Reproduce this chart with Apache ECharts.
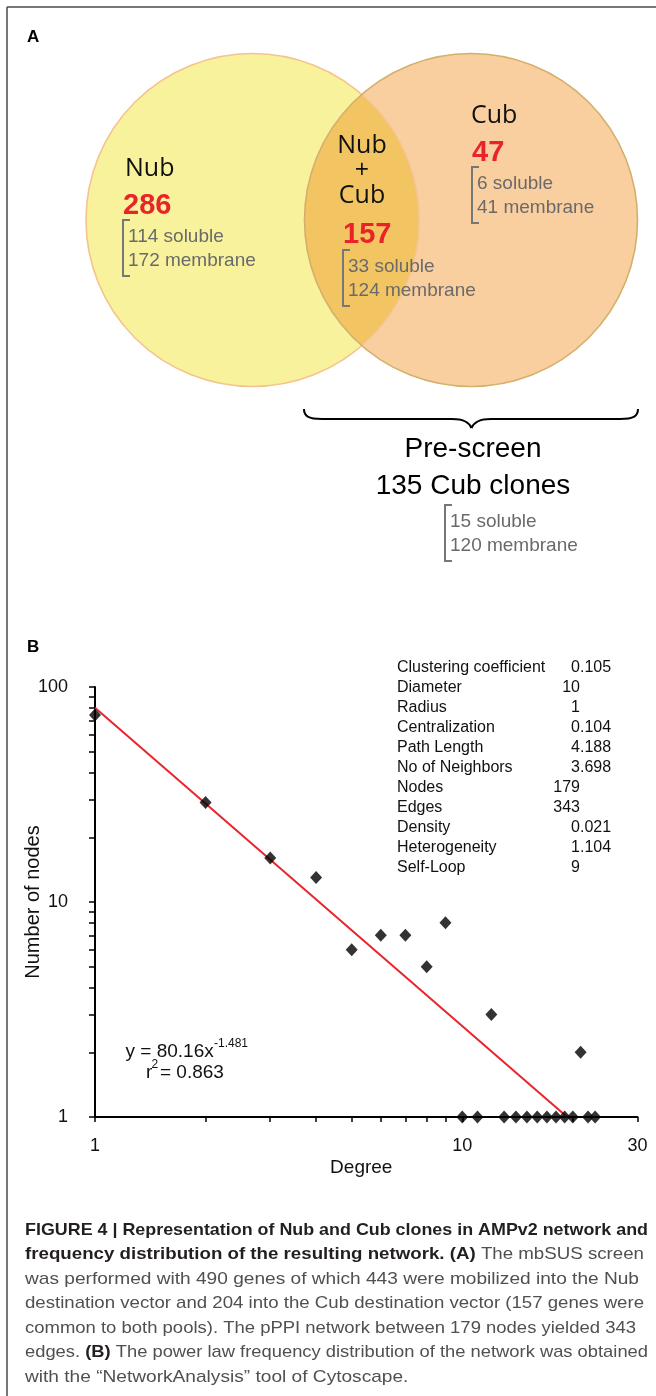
<!DOCTYPE html>
<html>
<head>
<meta charset="utf-8">
<script src="https://cdn.jsdelivr.net/npm/echarts@6/dist/echarts.min.js"></script>
<style>
  html, body { margin: 0; padding: 0; background: #fff; }
  #main { width: 656px; height: 1396px; }
</style>
</head>
<body>
<div id="main"></div>
<script>
// ---- Panel B: degree distribution of the pPPI network (log-log) ----
const degree    = [1, 2, 3, 4, 5, 6, 7, 8, 9, 10, 11, 12, 13, 14, 15, 16, 17, 18, 19, 20, 21, 22, 23];
const nodeCount = [74, 29, 16, 13, 6, 7, 7, 5, 8, 1, 1, 3, 1, 1, 1, 1, 1, 1, 1, 1, 2, 1, 1];

// power-law fit y = a * x^b
const fitCoefficient = 80.16;
const fitExponent = -1.481;
const fitR2 = '0.863';

const xTickValues  = [1, 2, 3, 4, 5, 6, 7, 8, 9, 10, 20, 30];
const xLabelValues = [1, 10, 30];
const yTickValues  = [1, 2, 3, 4, 5, 6, 7, 8, 9, 10, 20, 30, 40, 50, 60, 70, 80, 90, 100];
const yLabelValues = [1, 10, 100];

// network statistics
const statNames  = ['Clustering coefficient', 'Diameter', 'Radius', 'Centralization', 'Path Length',
                    'No of Neighbors', 'Nodes', 'Edges', 'Density', 'Heterogeneity', 'Self-Loop'];
const statValues = ['0.105', '10', '1', '0.104', '4.188', '3.698', '179', '343', '0.021', '1.104', '9'];

// ---- Panel A: clone pools ----
const vennTitles   = ['Nub', 'Nub\n+\nCub', 'Cub'];
const vennTotals   = [286, 157, 47];
const vennSoluble  = [114, 33, 6];
const vennMembrane = [172, 124, 41];
const preScreenTitle = ['Pre-screen', '135 Cub clones'];
const preScreenSoluble = 15;
const preScreenMembrane = 120;

// ---- caption (segments: [text, bold]) ----
const captionLines = [
  [['FIGURE 4 | Representation of Nub and Cub clones in AMPv2 network and', true]],
  [['frequency distribution of the resulting network. (A)', true], [' The mbSUS screen', false]],
  [['was performed with 490 genes of which 443 were mobilized into the Nub', false]],
  [['destination vector and 204 into the Cub destination vector (157 genes were', false]],
  [['common to both pools). The pPPI network between 179 nodes yielded 343', false]],
  [['edges. ', false], ['(B)', true], [' The power law frequency distribution of the network was obtained', false]],
  [['with the \u201cNetworkAnalysis\u201d tool of Cytoscape.', false]]
];
// right edge of each full caption line (narrow typeset column); the last line is ragged
const captionRight = [648, 644, 639, 644, 636, 648, null];

// ------------------------------------------------------------------
const SANS = '"Liberation Sans", Arial, Helvetica, sans-serif';
const HUMAN = '"Open Sans", "Noto Sans", sans-serif';
const RED = '#e8232a';
const GREY_TXT = '#6a6a6a';

const chart = echarts.init(document.getElementById('main'), null, { width: 656, height: 1396 });

const g = [];

// figure frame
g.push({ type: 'line', shape: { x1: 7, y1: 7, x2: 656, y2: 7 }, style: { stroke: '#4a4a4a', lineWidth: 1.5 } });
g.push({ type: 'line', shape: { x1: 7, y1: 7, x2: 7, y2: 1396 }, style: { stroke: '#4a4a4a', lineWidth: 1.5 } });

// panel letters
g.push({ type: 'text', x: 27, y: 37, style: { text: 'A', font: 'bold 17px ' + SANS, fill: '#000', verticalAlign: 'middle' } });
g.push({ type: 'text', x: 27, y: 647, style: { text: 'B', font: 'bold 17px ' + SANS, fill: '#000', verticalAlign: 'middle' } });

// Venn circles
const R = 166.5;
g.push({ type: 'circle', z: 1, shape: { cx: 252.5, cy: 220, r: R }, style: { fill: '#f8f29d' } });
g.push({ type: 'circle', z: 2, shape: { cx: 471, cy: 220, r: R }, style: { fill: '#facf9f', blend: 'multiply' } });
g.push({ type: 'circle', z: 3, shape: { cx: 252.5, cy: 220, r: R }, style: { fill: 'none', stroke: '#f4c48c', lineWidth: 1.6 } });
g.push({ type: 'circle', z: 3, shape: { cx: 471, cy: 220, r: R }, style: { fill: 'none', stroke: '#d3b06c', lineWidth: 1.6 } });

function bracketBlock(left, y1, total, soluble, membrane, totalY) {
  if (total !== null) {
    g.push({ type: 'text', z: 5, x: left - 5, y: totalY,
      style: { text: String(total), font: 'bold 29px ' + SANS, fill: RED, verticalAlign: 'middle' } });
  }
  g.push({ type: 'text', z: 5, x: left, y: y1,
    style: { text: soluble + ' soluble', font: '19px ' + SANS, fill: GREY_TXT, verticalAlign: 'middle' } });
  g.push({ type: 'text', z: 5, x: left, y: y1 + 24,
    style: { text: membrane + ' membrane', font: '19px ' + SANS, fill: GREY_TXT, verticalAlign: 'middle' } });
  const bx = left - 5, top = y1 - 17, bot = y1 + 24 + 15;
  g.push({ type: 'polyline', z: 5, shape: { points: [[bx + 7, top], [bx, top], [bx, bot], [bx + 7, bot]] },
    style: { stroke: '#777', lineWidth: 2, fill: 'none' } });
}

// Nub only
g.push({ type: 'text', z: 5, x: 125, y: 169, style: { text: vennTitles[0], font: '25px ' + HUMAN, fill: '#111', verticalAlign: 'middle' } });
bracketBlock(128, 237, vennTotals[0], vennSoluble[0], vennMembrane[0], 206);
// overlap
g.push({ type: 'text', z: 5, x: 362, y: 171, style: { text: vennTitles[1], font: '25px ' + HUMAN, fill: '#111',
  align: 'center', verticalAlign: 'middle', lineHeight: 25 } });
bracketBlock(348, 267, vennTotals[1], vennSoluble[1], vennMembrane[1], 235);
// Cub only
g.push({ type: 'text', z: 5, x: 471, y: 116, style: { text: vennTitles[2], font: '25px ' + HUMAN, fill: '#111', verticalAlign: 'middle' } });
bracketBlock(477, 184, vennTotals[2], vennSoluble[2], vennMembrane[2], 153);

// pre-screen curly brace, built from two mirrored halves
const braceStyle = { stroke: '#000', lineWidth: 2, fill: 'none' };
[[304, 322, 452, 471.5], [638, 620, 491, 471.5]].forEach(([xEnd, xA, xB, xTip]) => {
  const d = xEnd < xTip ? 1 : -1;
  g.push({ type: 'bezierCurve', z: 5, shape: { x1: xEnd, y1: 409, cpx1: xEnd, cpy1: 416, cpx2: xEnd + 4 * d, cpy2: 419, x2: xA, y2: 419 }, style: braceStyle });
  g.push({ type: 'line', z: 5, shape: { x1: xA, y1: 419, x2: xB, y2: 419 }, style: braceStyle });
  g.push({ type: 'bezierCurve', z: 5, shape: { x1: xB, y1: 419, cpx1: xB + 12 * d, cpy1: 419, cpx2: xTip - 2.5 * d, cpy2: 422, x2: xTip, y2: 428 }, style: braceStyle });
});
g.push({ type: 'text', z: 5, x: 473, y: 449, style: { text: preScreenTitle[0], font: '28px ' + SANS, fill: '#000', align: 'center', verticalAlign: 'middle' } });
g.push({ type: 'text', z: 5, x: 473, y: 486, style: { text: preScreenTitle[1], font: '28px ' + SANS, fill: '#000', align: 'center', verticalAlign: 'middle' } });
bracketBlock(450, 522, null, preScreenSoluble, preScreenMembrane, 0);

// statistics table (values aligned on the decimal point)
statNames.forEach((name, i) => {
  const y = 668 + 20 * i;
  g.push({ type: 'text', x: 397, y: y, style: { text: name, font: '16px ' + SANS, fill: '#111', verticalAlign: 'middle' } });
  const parts = statValues[i].split('.');
  g.push({ type: 'text', x: 580, y: y, style: { text: parts[0], font: '16px ' + SANS, fill: '#111', align: 'right', verticalAlign: 'middle' } });
  if (parts.length > 1) {
    g.push({ type: 'text', x: 580, y: y, style: { text: '.' + parts[1], font: '16px ' + SANS, fill: '#111', align: 'left', verticalAlign: 'middle' } });
  }
});

// fit equation
g.push({ type: 'text', x: 125.5, y: 1052, style: { text: 'y = ' + fitCoefficient + 'x', font: '19px ' + SANS, fill: '#111', verticalAlign: 'middle' } });
g.push({ type: 'text', x: 214, y: 1044, style: { text: String(fitExponent), font: '12px ' + SANS, fill: '#111', verticalAlign: 'middle' } });
g.push({ type: 'text', x: 146, y: 1073, style: { text: 'r', font: '19px ' + SANS, fill: '#111', verticalAlign: 'middle' } });
g.push({ type: 'text', x: 151.5, y: 1065, style: { text: '2', font: '12px ' + SANS, fill: '#111', verticalAlign: 'middle' } });
g.push({ type: 'text', x: 160, y: 1073, style: { text: '= ' + fitR2, font: '19px ' + SANS, fill: '#111', verticalAlign: 'middle' } });

// caption, each full line condensed to its typeset width
const measureCtx = document.createElement('canvas').getContext('2d');
function segWidth(t, bold) {
  measureCtx.font = (bold ? 'bold ' : '') + '17px ' + SANS;
  return measureCtx.measureText(t).width;
}
const lineScale = (segs, right) => (right - 25) / segs.reduce((s, [t, b]) => s + segWidth(t, b), 0);
const bodyScale = lineScale(captionLines[2], captionRight[2]);
captionLines.forEach((segs, i) => {
  const sx = captionRight[i] === null ? bodyScale : lineScale(segs, captionRight[i]);
  g.push({ type: 'text', x: 25, y: 1230 + 24.5 * i, scaleX: sx,
    style: {
      text: segs.map(([t, b]) => '{' + (b ? 'b' : 'r') + '|' + t + '}').join(''),
      verticalAlign: 'middle',
      rich: {
        b: { fontFamily: SANS, fontSize: 17, fontWeight: 'bold', fill: '#231f20' },
        r: { fontFamily: SANS, fontSize: 17, fill: '#505050' }
      }
    } });
});

// fitted line endpoints: x = 1 and where the fit reaches 1
const fitEndX = Math.pow(1 / fitCoefficient, 1 / fitExponent);

const axisFont = { fontFamily: SANS, fontSize: 18, color: '#111' };

const option = {
  animation: false,
  backgroundColor: '#fff',
  grid: { left: 95, right: 18.5, top: 687, bottom: 279, containLabel: false },
  xAxis: {
    type: 'log', logBase: 10, min: 1, max: 30,
    axisLine: { lineStyle: { color: '#000', width: 2 } },
    axisTick: { show: true, length: 5, customValues: xTickValues, lineStyle: { color: '#000', width: 1.5 } },
    axisLabel: Object.assign({ customValues: xLabelValues, margin: 20 }, axisFont),
    splitLine: { show: false },
    name: 'Degree', nameLocation: 'middle', nameGap: 41, nameMoveOverlap: false,
    nameTextStyle: { fontFamily: SANS, fontSize: 19, color: '#111', padding: [0, 10, 0, 0] }
  },
  yAxis: {
    type: 'log', logBase: 10, min: 1, max: 100,
    axisLine: { lineStyle: { color: '#000', width: 2 } },
    axisTick: { show: true, length: 6, customValues: yTickValues, lineStyle: { color: '#000', width: 1.5 } },
    axisLabel: Object.assign({ customValues: yLabelValues, margin: 27 }, axisFont),
    splitLine: { show: false },
    name: 'Number of nodes', nameLocation: 'middle', nameGap: 52, nameMoveOverlap: false,
    nameTextStyle: { fontFamily: SANS, fontSize: 20, color: '#111' }
  },
  series: [
    {
      type: 'line', z: 2, silent: true, symbol: 'none',
      data: [[1, fitCoefficient], [fitEndX, 1]],
      lineStyle: { color: '#e8252b', width: 2 }
    },
    {
      type: 'scatter', z: 3, clip: false,
      data: degree.map((d, i) => [d, nodeCount[i]]),
      symbol: 'diamond', symbolSize: [12, 13],
      itemStyle: { color: '#000' }
    }
  ],
  graphic: { elements: g }
};

chart.setOption(option);
</script>
</body>
</html>
